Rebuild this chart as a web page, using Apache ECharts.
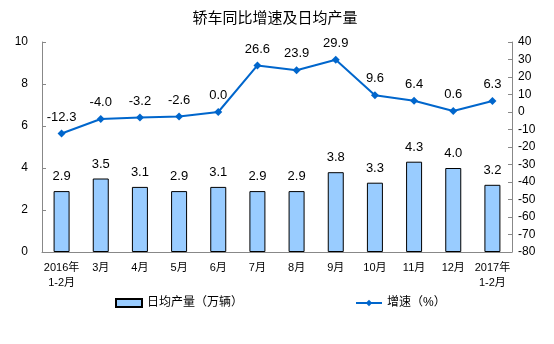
<!DOCTYPE html>
<html><head><meta charset="utf-8">
<script src="https://cdn.jsdelivr.net/npm/echarts@6/dist/echarts.min.js"></script>
<style>html,body{margin:0;padding:0;background:#fff}#c{width:554px;height:344px}</style>
</head><body><div id="c"></div>
<script>
const categories = ['2016年\n1-2月','3月','4月','5月','6月','7月','8月','9月','10月','11月','12月','2017年\n1-2月'];
const dailyOutput = [2.9,3.5,3.1,2.9,3.1,2.9,2.9,3.8,3.3,4.3,4.0,3.2];
const growth = [-12.3,-4.0,-3.2,-2.6,0.0,26.6,23.9,29.9,9.6,6.4,0.6,6.3];
const leftTicks = {min:0,max:10,interval:2};
const rightTicks = {min:-80,max:40,interval:10};

const font = '"Liberation Sans", "Noto Sans CJK SC", sans-serif';
const chart = echarts.init(document.getElementById('c'));
chart.setOption({
  animation:false,
  textStyle:{fontFamily:font},
  title:{text:'轿车同比增速及日均产量',left:270,textAlign:'center',top:6,
    textStyle:{fontSize:15,fontWeight:'normal',color:'#000',fontFamily:font}},
  grid:{left:42,right:42,top:42,bottom:92},
  legend:{bottom:30,left:110,itemGap:112,itemWidth:26,itemHeight:8,
    textStyle:{fontSize:12,color:'#000',fontFamily:font},
    data:[{name:'日均产量（万辆）',icon:'rect'},{name:'增速（%）'}]},
  xAxis:{type:'category',data:categories,
    axisLine:{lineStyle:{color:'#888'}},
    axisTick:{inside:true,length:4,lineStyle:{color:'#888'}},
    axisLabel:{fontSize:11,color:'#000',margin:8,lineHeight:15,interval:0}},
  yAxis:[
    {type:'value',...leftTicks,splitLine:{show:false},
      axisLine:{show:true,lineStyle:{color:'#888'}},
      axisTick:{show:true,inside:true,length:4,lineStyle:{color:'#888'}},
      axisLabel:{fontSize:12,color:'#000',margin:14}},
    {type:'value',...rightTicks,splitLine:{show:false},
      axisLine:{show:true,lineStyle:{color:'#888'}},
      axisTick:{show:true,inside:true,length:4,lineStyle:{color:'#888'}},
      axisLabel:{fontSize:12,color:'#000',margin:6}}
  ],
  series:[
    {name:'日均产量（万辆）',type:'bar',data:dailyOutput,barWidth:16,
      itemStyle:{color:'#99CCFF',borderColor:'#000',borderWidth:1},
      label:{show:true,position:'top',distance:8,fontSize:13,color:'#000',
        formatter:p=>p.value.toFixed(1)}},
    {name:'增速（%）',type:'line',yAxisIndex:1,data:growth,
      symbol:'diamond',symbolSize:8,
      lineStyle:{color:'#0066CC',width:2},itemStyle:{color:'#0066CC'},
      label:{show:true,position:'top',distance:6,fontSize:13,color:'#000',
        formatter:p=>p.value.toFixed(1)}}
  ]
});
</script></body></html>
